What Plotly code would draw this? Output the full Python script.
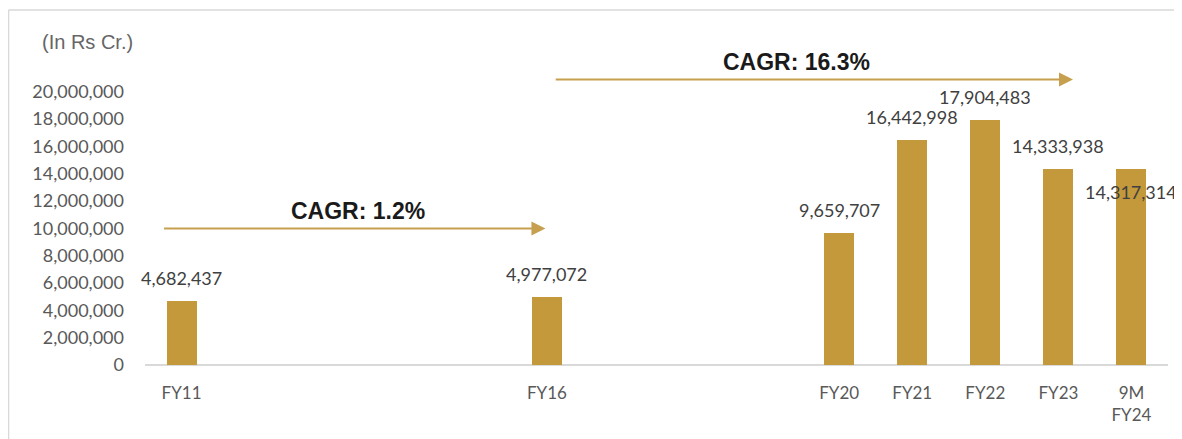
import plotly.graph_objects as go

# ---- data ----
years = [11, 16, 20, 21, 22, 23, 24]
tick_labels = ["FY11", "FY16", "FY20", "FY21", "FY22", "FY23", "9M<br>FY24"]
values = [4682437, 4977072, 9659707, 16442998, 17904483, 14333938, 14317314]
label_shift = [23, 23, 23, 23, 23, 23, -23]
y_ticks = [0, 2000000, 4000000, 6000000, 8000000, 10000000,
           12000000, 14000000, 16000000, 18000000, 20000000]

cagr_texts = ["CAGR: 1.2%", "CAGR: 16.3%"]
cagr_text_pos = [(13.42, 11.28e6), (19.41, 22.2e6)]
cagr_arrows = [((10.74, 10.0e6), (15.98, 10.0e6)), ((16.10, 20.9e6), (23.20, 20.9e6))]

BAR = "#C4993B"
ARROW = "#C6A04E"
LABEL = "#404040"
TICK = "#595959"
FONT = "Lato"

fig = go.Figure()
fig.add_trace(go.Bar(
    x=years, y=values, width=0.41,
    marker=dict(color=BAR, line=dict(width=0)),
    hoverinfo="skip", showlegend=False,
))

annotations = []
for xv, v, s in zip(years, values, label_shift):
    annotations.append(dict(
        x=xv, y=v, xref="x", yref="y", text=f"{v:,}", showarrow=False,
        yshift=s, yanchor="middle", xanchor="center",
        font=dict(family=FONT, size=18, color=LABEL),
    ))

for (tail, head) in cagr_arrows:
    annotations.append(dict(
        x=head[0], y=head[1], ax=tail[0], ay=tail[1],
        xref="x", yref="y", axref="x", ayref="y",
        text="", showarrow=True, arrowhead=2, arrowsize=1.4,
        arrowwidth=2, arrowcolor=ARROW, standoff=0,
    ))

for t, (xv, yv) in zip(cagr_texts, cagr_text_pos):
    annotations.append(dict(
        x=xv, y=yv, xref="x", yref="y", text=f"<b>{t}</b>", showarrow=False,
        font=dict(family="Liberation Sans, Arial", size=23, color="#1a1a1a"),
    ))

annotations.append(dict(
    x=-0.1026, y=1.006, xref="paper", yref="paper", text="(In Rs Cr.)",
    showarrow=False, xanchor="left", yanchor="middle",
    font=dict(family="Liberation Sans, Arial", size=20, color="#666666"),
))

# page body has an 8px default margin: figure is offset by 8px right/down
fig.update_layout(
    width=1174, height=431,
    margin=dict(l=137, r=14, t=36, b=74),
    plot_bgcolor="white", paper_bgcolor="white",
    bargap=0,
    annotations=annotations,
    shapes=[
        dict(type="line", xref="paper", yref="paper",
             x0=-0.1334, x1=1.02, y0=1.106, y1=1.106,
             line=dict(color="#D9D9D9", width=1.5)),
        dict(type="line", xref="paper", yref="paper",
             x0=-0.1334, x1=-0.1334, y0=1.106, y1=-0.25,
             line=dict(color="#D9D9D9", width=1.5)),
    ],
    xaxis=dict(
        range=[10.5, 24.5], tickvals=years, ticktext=tick_labels,
        showgrid=False, zeroline=False, showline=False, ticks="",
        tickfont=dict(family=FONT, size=17, color=TICK),
        ticklabelstandoff=16,
    ),
    yaxis=dict(
        range=[0, 23.5e6], tickvals=y_ticks, tickformat=",d",
        showgrid=False, zeroline=True, zerolinecolor="#D9D9D9", zerolinewidth=1.5,
        showline=False, ticks="",
        tickfont=dict(family=FONT, size=18, color=TICK),
        ticklabelstandoff=20,
    ),
)

fig.write_html("out.html")
